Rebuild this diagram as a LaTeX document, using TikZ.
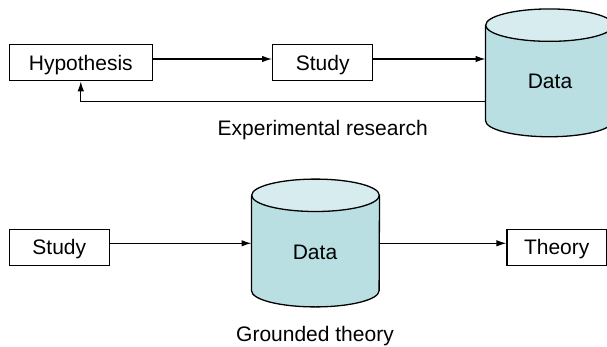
\documentclass[tikz,border=0pt]{standalone}
\usepackage{fontspec}
\setmainfont{Liberation Sans}
\usetikzlibrary{arrows.meta}
\definecolor{cylbody}{HTML}{B9DFE2}
\definecolor{cyltop}{HTML}{D6ECEE}
\begin{document}
\begin{tikzpicture}[x=1pt,y=1pt,
  txt/.style={font=\fontsize{21}{25}\selectfont},
  box/.style={draw, line width=1.3pt, txt, minimum height=36pt, inner sep=0pt,
    text height=18pt, text depth=3pt},
  lbl/.style={txt, inner sep=0pt, anchor=base},
  dbnode/.style={inner sep=0pt, minimum width=127.6pt, minimum height=95pt},
  conn/.style={line width=1.2pt, -{Latex[length=10pt,width=6.5pt]}},
  cylline/.style={line width=1.3pt}
]
\useasboundingbox (0,0) rectangle (607,346);

% ---------- Experimental research ----------
\node[box, minimum width=143pt] (hyp) at (80.8,283.3) {Hypothesis};
\node[box, minimum width=100pt] (study1) at (322.7,283.3) {Study};
\node[dbnode] (db1) at (549.5,273.15) {};
\fill[cylbody] (db1.north west) -- (db1.south west)
  arc[start angle=180, end angle=360, x radius=63.8pt, y radius=16.2pt] -- (db1.north east) -- cycle;
\draw[cylline] (db1.north west) -- (db1.south west)
  arc[start angle=180, end angle=360, x radius=63.8pt, y radius=16.2pt] -- (db1.north east);
\filldraw[cylline, fill=cyltop] (db1.north) ellipse[x radius=63.8pt, y radius=16.2pt];
\node[lbl] (data1) at (550,257.7) {Data};
\node[lbl] (exp) at (322.7,211) {Experimental research};

\coordinate (h1) at ([yshift=3.7pt]hyp.east);
\coordinate (s1) at ([yshift=3.7pt]study1.east);
\coordinate (f1) at ([yshift=-28.85pt]db1.west);
\draw[conn] (h1) -- (h1 -| study1.west);
\draw[conn] (s1) -- (s1 -| db1.west);
\draw[conn] (f1) -| (hyp.south);

% ---------- Grounded theory ----------
\node[box, minimum width=100pt] (study2) at (59.3,98.8) {Study};
\node[box, minimum width=99.3pt] (theory) at (556.7,98.8) {Theory};
\node[dbnode] (db2) at (315.5,103) {};
\fill[cylbody] (db2.north west) -- (db2.south west)
  arc[start angle=180, end angle=360, x radius=63.8pt, y radius=16.2pt] -- (db2.north east) -- cycle;
\draw[cylline] (db2.north west) -- (db2.south west)
  arc[start angle=180, end angle=360, x radius=63.8pt, y radius=16.2pt] -- (db2.north east);
\filldraw[cylline, fill=cyltop] (db2.north) ellipse[x radius=63.8pt, y radius=16.2pt];
\node[lbl] (data2) at (315,86.7) {Data};
\node[lbl] (gro) at (315,4.3) {Grounded theory};

\coordinate (s2) at ([yshift=3.9pt]study2.east);
\draw[conn] (s2) -- (s2 -| db2.west);
\draw[conn] (s2 -| db2.east) -- (s2 -| theory.west);
\end{tikzpicture}
\end{document}
